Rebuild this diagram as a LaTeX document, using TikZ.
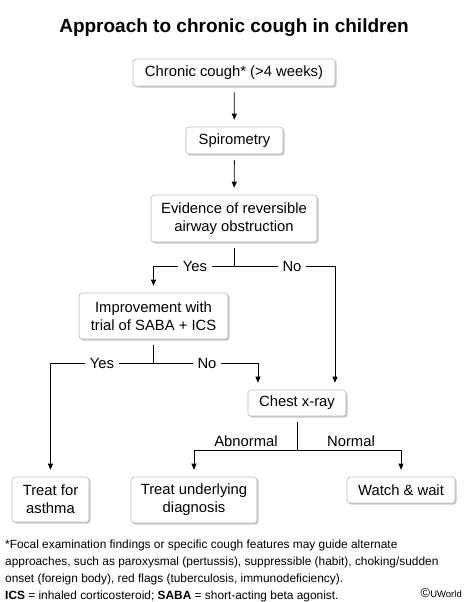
\documentclass[tikz,border=0pt]{standalone}
\usepackage{fontspec}
\setmainfont{Liberation Sans}
\usetikzlibrary{shapes, arrows.meta, positioning, shadows}

\begin{document}
\begin{tikzpicture}[
        x=1pt, y=-1pt,
        box/.style={rectangle, draw=gray!55, fill=white, rounded corners=3pt, line width=0.6pt, align=center, inner sep=0pt, font=\fontsize{14.8}{18}\selectfont, drop shadow={shadow xshift=1.5pt, shadow yshift=-1.5pt, opacity=0.45, fill=gray}},
        lbl/.style={fill=white, inner xsep=5pt, inner ysep=2pt, font=\fontsize{14.8}{16}\selectfont},
        line/.style={line width=0.8pt, black},
        arrow/.style={line, -{Triangle[length=6pt, width=5pt]}, shorten >=7pt}
    ]
        \useasboundingbox (0,0) rectangle (467,602);

        % Title
        \node[font=\fontsize{19}{22}\selectfont\bfseries] (title) at (234,28) {Approach to chronic cough in children};

        % Main column
        \node[box, minimum width=202pt, minimum height=27pt] (cough) at (234,72.5) {Chronic cough* (>4 weeks)};
        \node[box, minimum width=97pt, minimum height=27pt] (spiro) at (234.5,140.5) {Spirometry};
        \node[box, minimum width=166pt, minimum height=47pt] (evid) at (234,218.5) {Evidence of reversible\\airway obstruction};

        \draw[arrow, shorten <=6pt] (cough) -- (spiro);
        \draw[arrow, shorten <=6pt] (spiro) -- (evid);

        % Middle row
        \node[box, minimum width=149pt, minimum height=46pt] (impr) at (153.5,316) {Improvement with\\trial of SABA + ICS};
        \node[box, minimum width=98pt, minimum height=26pt] (chest) at (297,403) {Chest x-ray};

        \coordinate (j1) at (234,266);
        \draw[line, shorten <=6pt] (evid) -- (j1);
        \draw[arrow] (j1) -| (impr);
        \draw[arrow] (j1) -| ([xshift=38pt]chest.north);
        \node[lbl] (yes1) at (195,266) {Yes};
        \node[lbl] (no1) at (292,266) {No};

        % Bottom row
        \node[box, minimum width=77pt, minimum height=45pt] (asthma) at (50.5,499.5) {Treat for\\asthma};
        \node[box, minimum width=126pt, minimum height=46pt] (under) at (194,500) {Treat underlying\\diagnosis};
        \node[box, minimum width=108pt, minimum height=26pt] (watch) at (401,490) {Watch \& wait};

        \coordinate (j2) at (153.5,363);
        \draw[line, shorten <=6pt] (impr) -- (j2);
        \draw[arrow] (j2) -| (asthma);
        \draw[arrow] (j2) -| ([xshift=-39pt]chest.north);
        \node[lbl] (yes2) at (102,363) {Yes};
        \node[lbl] (no2) at (207,363) {No};

        \coordinate (j3) at (297,450);
        \draw[line, shorten <=6pt] (chest) -- (j3);
        \draw[arrow] (j3) -| (under);
        \draw[arrow] (j3) -| (watch);
        \node[font=\fontsize{14.8}{16}\selectfont, anchor=base] (abn) at (246,446) {Abnormal};
        \node[font=\fontsize{14.8}{16}\selectfont, anchor=base] (norm) at (351,446) {Normal};

        % Footnote
        \node[anchor=north west, align=left, inner sep=0pt, font=\fontsize{11.9}{17}\selectfont] (note) at (5,540) {*Focal examination findings or specific cough features may guide alternate\\approaches, such as paroxysmal (pertussis), suppressible (habit), choking/sudden\\onset (foreign body), red flags (tuberculosis, immunodeficiency).\\\textbf{ICS} = inhaled corticosteroid; \textbf{SABA} = short-acting beta agonist.};
        \node[anchor=base east, inner sep=0pt] (uw) at (462,597) {{\fontsize{13}{13}\selectfont\textcopyright}{\fontsize{9.5}{9.5}\selectfont UWorld}};
    \end{tikzpicture}
\end{document}
